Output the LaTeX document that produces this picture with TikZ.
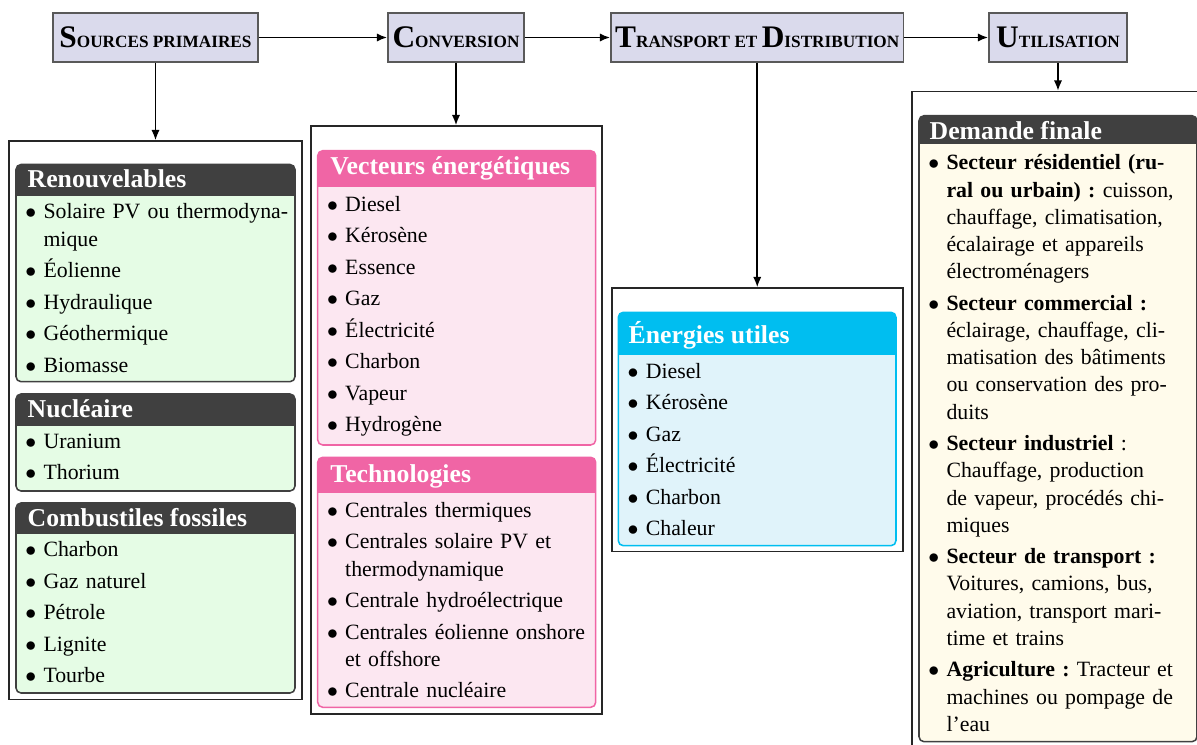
\documentclass[tikz,border=0pt]{standalone}
\usepackage{fontspec}
\setmainfont{Liberation Serif}
\usetikzlibrary{arrows.meta}
\definecolor{hdrfill}{RGB}{218,218,236}
\definecolor{darkt}{RGB}{64,64,64}
\definecolor{greenb}{RGB}{229,252,229}
\definecolor{pinkt}{RGB}{240,101,165}
\definecolor{pinkb}{RGB}{252,231,241}
\definecolor{cyant}{RGB}{0,190,240}
\definecolor{cyanb}{RGB}{224,243,250}
\definecolor{creamb}{RGB}{255,251,235}
\newdimen\pxu \pxu=0.4587pt
\newcommand\bitem[1]{\hangindent=8.3pt\hangafter=1\noindent\makebox[8.3pt][l]{$\bullet$}#1\par}
\newcommand\fsc[2]{{\fontsize{14.4}{16}\selectfont #1}{\fontsize{7.9}{10}\selectfont #2}}
\newcommand\ibox[7]{%
  \begin{scope}
    \clip[rounded corners=2.3pt] (#1,#2) rectangle (#4,#5);
    \fill[#7] (#1,#3) rectangle (#4,#5);
    \fill[#6] (#1,#2) rectangle (#4,#3);
  \end{scope}
  \draw[#6, line width=0.7pt, rounded corners=2.3pt] (#1,#2) rectangle (#4,#5);}
\tikzset{
  hdr/.style={draw=black!65, line width=0.6pt, fill=hdrfill, inner sep=0pt, minimum height=49\pxu, font=\bfseries},
  frame/.style={draw=black!85, line width=0.5pt, inner sep=0pt},
  arr/.style={line width=0.9pt, -{Latex[length=4.8pt,width=3.8pt]}},
  ttl/.style={anchor=base west, inner sep=0pt, text=white, font=\bfseries\fontsize{11.8}{14}\selectfont},
  body/.style={anchor=base west, inner sep=0pt, text width=#1, align=left,
    font=\fontsize{10}{12.48}\selectfont,
    execute at begin node={\frenchspacing\setlength\parskip{1.97pt}\hyphenpenalty=10000 }},
}
\begin{document}
\begin{tikzpicture}[x=\pxu, y=-\pxu]
\clip (0,0) rectangle (1197,745);
\fill[white] (0,0) rectangle (1197,745);

% top headers
\node[hdr, minimum width=205\pxu] (hs) at (155.5,37.5) {\fsc{S}{OURCES PRIMAIRES}};
\node[hdr, minimum width=136\pxu] (hc) at (456,37.5) {\fsc{C}{ONVERSION}};
\node[hdr, minimum width=292.5\pxu] (ht) at (757.25,37.5) {\fsc{T}{RANSPORT ET }\fsc{D}{ISTRIBUTION}};
\node[hdr, minimum width=138\pxu] (hu) at (1058,37.5) {\fsc{U}{TILISATION}};

% frames
\node[frame, minimum width=293\pxu, minimum height=558.5\pxu] (fs) at (155.5,420.25) {};
\node[frame, minimum width=291\pxu, minimum height=588\pxu] (fc) at (456.5,420) {};
\node[frame, minimum width=291\pxu, minimum height=263.7\pxu] (ft) at (757.5,419.85) {};
\node[frame, minimum width=292\pxu, minimum height=668.5\pxu] (fu) at (1058,425.75) {};

% connectors
\draw[arr] (hs.east) -- (hc.west);
\draw[arr] (hc.east) -- (ht.west);
\draw[arr] (ht.east) -- (hu.west);
\draw[arr] (hs.south) -- (hs.south |- fs.north);
\draw[arr] (hc.south) -- (hc.south |- fc.north);
\draw[arr] (ht.south) -- (ht.south |- ft.north);
\draw[arr] (hu.south) -- (hu.south |- fu.north);

% Sources primaires
\ibox{16}{164.5}{196}{295}{381.7}{darkt}{greenb}
\node[ttl] (t1) at (27.3,187.3) {Renouvelables};
\node[body=265\pxu] (b1) at (25,219) {\bitem{Solaire PV ou thermodyna-\newline mique}\bitem{Éolienne}\bitem{Hydraulique}\bitem{Géothermique}\bitem{Biomasse}};

\ibox{16}{394}{426}{295}{491}{darkt}{greenb}
\node[ttl] (t2) at (27.3,418) {Nucléaire};
\node[body=265\pxu] (b2) at (25,448.3) {\bitem{Uranium}\bitem{Thorium}};

\ibox{16}{503}{533.5}{295}{693}{darkt}{greenb}
\node[ttl] (t3) at (27.3,526.7) {Combustiles fossiles};
\node[body=265\pxu] (b3) at (25,556.7) {\bitem{Charbon}\bitem{Gaz naturel}\bitem{Pétrole}\bitem{Lignite}\bitem{Tourbe}};

% Conversion
\ibox{317.7}{150.7}{186.7}{595.7}{445}{pinkt}{pinkb}
\node[ttl] (t4) at (330,174.3) {Vecteurs énergétiques};
\node[body=263\pxu] (b4) at (326.7,211.3) {\bitem{Diesel}\bitem{Kérosène}\bitem{Essence}\bitem{Gaz}\bitem{Électricité}\bitem{Charbon}\bitem{Vapeur}\bitem{Hydrogène}};

\ibox{317.7}{457.3}{492.7}{595.7}{707.3}{pinkt}{pinkb}
\node[ttl] (t5) at (330,482.3) {Technologies};
\node[body=263\pxu] (b5) at (326.7,517.3) {\bitem{Centrales thermiques}\bitem{Centrales solaire PV et\newline thermodynamique}\bitem{Centrale hydroélectrique}\bitem{Centrales éolienne onshore\newline et offshore}\bitem{Centrale nucléaire}};

% Transport et distribution
\ibox{618.3}{312.3}{355}{896}{545.7}{cyant}{cyanb}
\node[ttl] (t6) at (628.3,343.3) {Énergies utiles};
\node[body=263\pxu] (b6) at (627.3,378) {\bitem{Diesel}\bitem{Kérosène}\bitem{Gaz}\bitem{Électricité}\bitem{Charbon}\bitem{Chaleur}};

% Utilisation
\ibox{919}{115.7}{144}{1197}{741.7}{darkt}{creamb}
\node[ttl] (t7) at (929.3,139.3) {Demande finale};
\node[body=262\pxu] (b7) at (928,170) {%
\bitem{\textbf{Secteur résidentiel (ru-\newline ral ou urbain) :} cuisson,\newline chauffage, climatisation,\newline écalairage et appareils\newline électroménagers}%
\bitem{\textbf{Secteur commercial :}\newline éclairage, chauffage, cli-\newline matisation des bâtiments\newline ou conservation des pro-\newline duits}%
\bitem{\textbf{Secteur industriel} :\newline Chauffage, production\newline de vapeur, procédés chi-\newline miques}%
\bitem{\textbf{Secteur de transport :}\newline Voitures, camions, bus,\newline aviation, transport mari-\newline time et trains}%
\bitem{\textbf{Agriculture :} Tracteur et\newline machines ou pompage de\newline l'eau}};
\end{tikzpicture}
\end{document}
